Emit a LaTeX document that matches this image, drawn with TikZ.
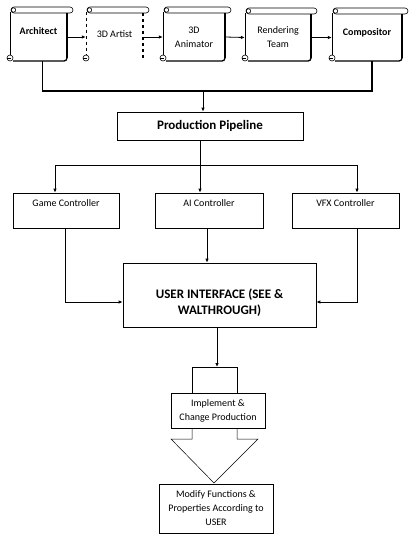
\documentclass[tikz,border=0pt]{standalone}
\usepackage{fontspec}
\setmainfont{Carlito}
\usetikzlibrary{arrows.meta}
\tikzset{
  thinline/.style={line width=0.6pt},
  thickline/.style={line width=1.3pt},
  scrollbody/.style={draw=none, inner sep=0pt, align=center, font=\fontsize{10}{14}\selectfont},
  box/.style={draw, line width=0.7pt, inner sep=1pt, align=center, font=\fontsize{10}{14}\selectfont},
  bigtext/.style={font=\bfseries\fontsize{13}{16}\selectfont},
  conn/.style={line width=0.8pt, -{Latex[length=4pt,width=3.5pt]}},
  busline/.style={line width=1.6pt},
}
% name, left, top, right, bottom, text, side style, bottom style
\newcommand\myscroll[8]{%
  \node[scrollbody, minimum width={#4-#2}, minimum height={#5-#3-6}] (#1) at ({(#2+#4)/2},{(#3+6+#5)/2}) {#6};
  \draw[thinline, rounded corners=3pt] ({#2+1},#3) rectangle ({#4+6},{#3+6});
  \draw[thinline] ({#2+3.5},{#3+3}) circle (2.2);
  \draw[thinline,#7] (#2,{#3+5}) -- (#2,{#5-6});
  \draw[thickline,#7] (#4,{#3+6}) -- (#4,{#5-3});
  \draw[thickline,#8,rounded corners=3pt] (#4,{#5-3}) -- (#4,#5) -- ({#2+3},#5);
  \draw[thinline] (#2,{#5-3}) circle (3);
  \draw[thinline] ({#2-3},{#5-3}) -- ({#2+1},{#5-3});
}
\newcommand\lift[2]{\raisebox{#1}[0pt][0pt]{#2}}
\begin{document}
\begin{tikzpicture}[x=1pt,y=-1pt]
\useasboundingbox (0,0) rectangle (408,539);
\myscroll{arch}{10}{7}{67}{61}{\bfseries\lift{2.5pt}{Architect}}{solid}{draw}
\myscroll{art}{86}{7}{143}{61}{\lift{0pt}{3D Artist}}{dashed}{draw=none}
\myscroll{anim}{163}{7}{225}{61}{3D\\Animator}{solid}{draw}
\myscroll{rend}{245}{8}{311}{61}{Rendering\\Team}{solid}{draw}
\myscroll{comp}{332}{8}{402}{61}{\bfseries\lift{2.5pt}{Compositor}}{solid}{draw}

\draw[conn] (arch.east) -- (art.west);
\draw[conn] (art.east) -- (anim.west);
\draw[conn] (anim.east) -- (rend.west);
\draw[conn] (rend.east) -- (comp.west);

\node[box, bigtext, minimum width=186, minimum height=28] (pp) at (210,126) {Production Pipeline};

\coordinate (bus) at (203,91);
\draw[busline] ([xshift=4pt]arch.south) |- (bus) -| ([xshift=5pt]comp.south);
\draw[conn] (bus) -- (bus |- pp.north);

\node[box, minimum width=106, minimum height=35] (gc) at (66,210.5) {\lift{4.5pt}{Game Controller}};
\node[box, minimum width=108, minimum height=35] (ai) at (209,210.5) {\lift{4.5pt}{AI Controller}};
\node[box, minimum width=107, minimum height=35] (vfx) at (345.5,210.5) {\lift{4.5pt}{VFX Controller}};

\coordinate (split) at (200,165);
\draw[line width=0.8pt] (split |- pp.south) -- (split);
\draw[conn] (split) -- (split |- ai.north);
\draw[conn] (split) -| ([xshift=-11pt]gc.north);
\draw[conn] (split) -| ([xshift=11.5pt]vfx.north);

\node[box, bigtext, minimum width=193, minimum height=64] (ui) at (219.5,295)
  {\lift{-11.5pt}{\begin{tabular}{@{}c@{}}USER INTERFACE (SEE \&\\WALTHROUGH)\end{tabular}}};

\draw[conn] ([xshift=-1pt]gc.south) |- ([yshift=-7pt]ui.west);
\draw[conn] ([xshift=-2pt]ai.south) -- ([xshift=-2pt]ai.south |- ui.north);
\draw[conn] ([xshift=11.5pt]vfx.south) |- ([yshift=-7pt]ui.east);

\draw[line width=0.7pt] (192,393) -- (192,367) -- (237,367) -- (237,393);
\node[box, minimum width=94, minimum height=35] (impl) at (218,410.5) {Implement \&\\Change Production};
\draw[line width=0.5pt] (192,428) -- (192,439) -- (171,439) -- (214,483) -- (258,439) -- (237,439) -- (237,428);

\coordinate (notch) at (217,367);
\draw[conn] (notch |- ui.south) -- (notch);

\node[box, minimum width=114, minimum height=49] (mod) at (216,508.5) {Modify Functions \&\\Properties According to\\USER};
\end{tikzpicture}
\end{document}
